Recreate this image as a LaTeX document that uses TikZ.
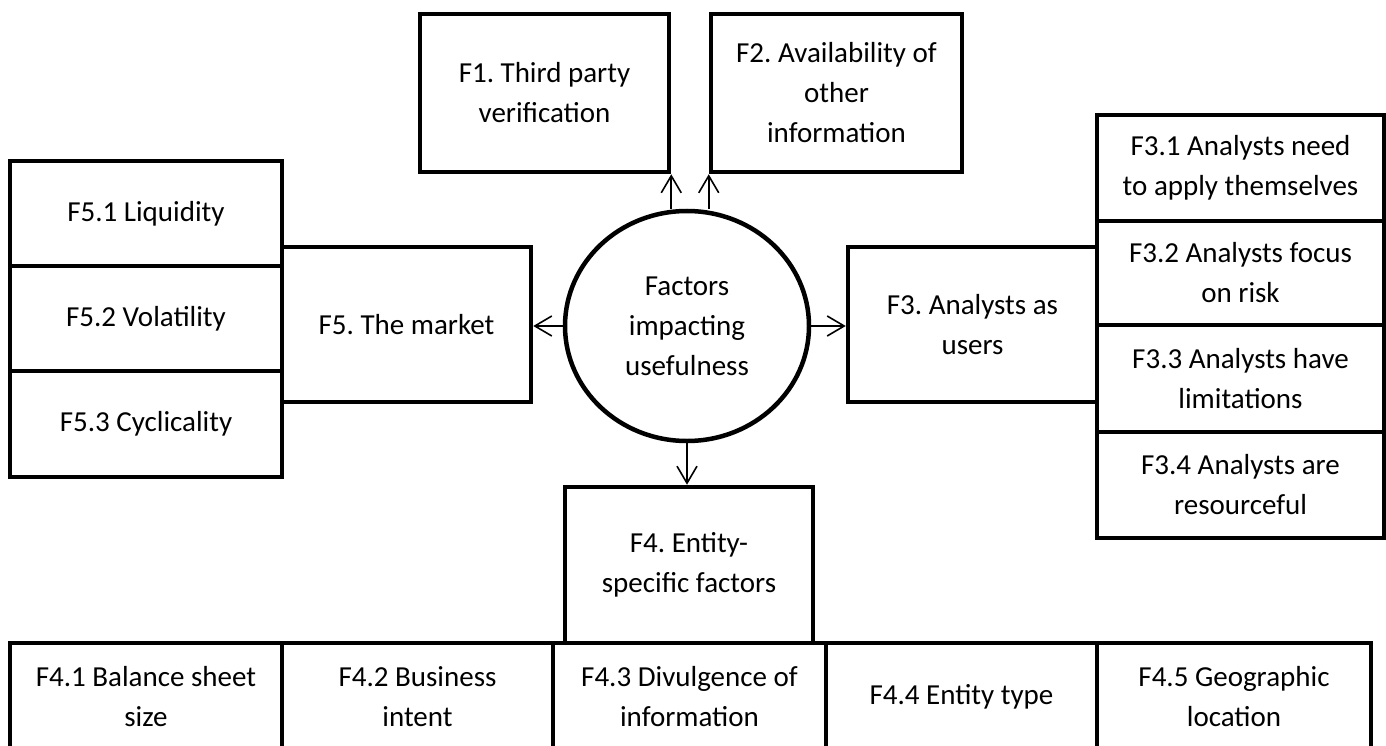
\documentclass[tikz,border=0pt]{standalone}
\usepackage{fontspec}
\setmainfont{Carlito}
\usetikzlibrary{arrows.meta,shapes.geometric}
\newcommand{\boxfont}{\fontsize{29}{40}\selectfont\frenchspacing}
\begin{document}
\begin{tikzpicture}[x=1pt,y=-1pt,line join=miter,>={Straight Barb[length=17pt,width=20pt]}]
			\tikzset{box/.style={draw,line width=4.5pt,inner sep=0pt,align=center,font=\boxfont},
				sub/.style={box,minimum width=272pt,minimum height=105pt},
				bot/.style={box,minimum height=107pt},
				link/.style={->,line width=1.6pt}
			}
			\useasboundingbox (0,0) rectangle (1386,746);
			% centre
			\node[draw,ellipse,line width=4.5pt,inner sep=0pt,minimum width=244pt,minimum height=230pt,align=center,font=\boxfont] (fac) at (687,326) {Factors\\impacting\\usefulness};
			% top
			\node[box,minimum width=249pt,minimum height=158pt] (f1) at (544.5,93) {F1. Third party\\verification};
			\node[box,minimum width=251pt,minimum height=158pt] (f2) at (836.5,93) {F2. Availability of\\other\\information};
			% left
			\node[box,minimum width=249pt,minimum height=155pt] (f5) at (406.5,324.5) {F5. The market};
			\node[sub] (f51) at (146,213.5) {F5.1 Liquidity};
			\node[sub] (f52) at (146,318.5) {F5.2 Volatility};
			\node[sub,minimum height=106pt] (f53) at (146,424) {F5.3 Cyclicality};
			% right
			\node[box,minimum width=249pt,minimum height=155pt] (f3) at (972.5,324.5) {F3. Analysts as\\users};
			\node[box,minimum width=287pt,minimum height=106pt] (f31) at (1240.5,168) {F3.1 Analysts need\\to apply themselves};
			\node[box,minimum width=287pt,minimum height=104pt] (f32) at (1240.5,273) {F3.2 Analysts focus\\on risk};
			\node[box,minimum width=287pt,minimum height=107pt] (f33) at (1240.5,378.5) {F3.3 Analysts have\\limitations};
			\node[box,minimum width=287pt,minimum height=106pt] (f34) at (1240.5,485) {F3.4 Analysts are\\resourceful};
			% bottom
			\node[box,minimum width=248pt,minimum height=156pt] (f4) at (689,565) {F4. Entity-\\specific factors};
			\node[bot,minimum width=272pt] (f41) at (146,696.5) {F4.1 Balance sheet\\size};
			\node[bot,minimum width=271pt] (f42) at (417.5,696.5) {F4.2 Business\\intent};
			\node[bot,minimum width=273pt] (f43) at (689.5,696.5) {F4.3 Divulgence of\\information};
			\node[bot,minimum width=271pt] (f44) at (961.5,696.5) {F4.4 Entity type};
			\node[bot,minimum width=274pt] (f45) at (1234,696.5) {F4.5 Geographic\\location};
			% arrows
			\draw[link] (f1.south east |- fac.north) -- (f1.south east);
			\draw[link] (f2.south west |- fac.north) -- (f2.south west);
			\draw[link] (fac.west) -- (f5.east |- fac.west);
			\draw[link] (fac.east) -- (f3.west |- fac.east);
			\draw[link] (fac.south) -- (fac.south |- f4.north);
	\end{tikzpicture}
\end{document}
